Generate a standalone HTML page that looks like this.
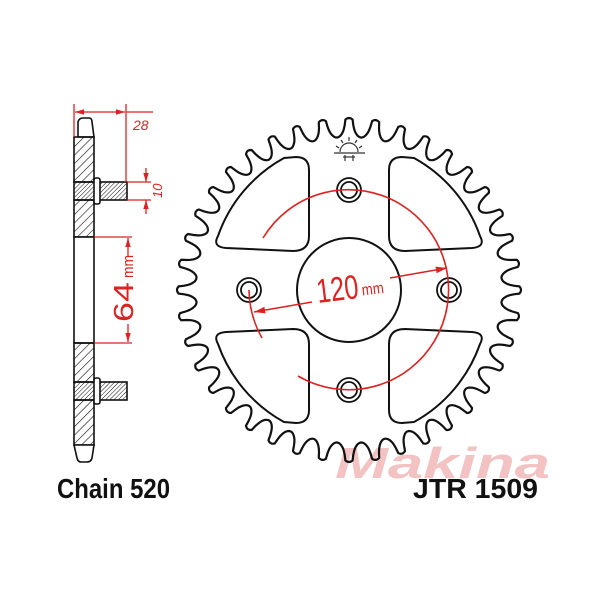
<!DOCTYPE html>
<html><head><meta charset="utf-8"><style>body{margin:0;background:#fff}svg{display:block}</style></head>
<body>
<svg id="s" width="600" height="600" viewBox="0 0 600 600" xmlns="http://www.w3.org/2000/svg" font-family="Liberation Sans, sans-serif">
<defs>
<pattern id="h1" width="6" height="6" patternUnits="userSpaceOnUse" patternTransform="rotate(45)"><line x1="0" y1="0" x2="0" y2="6" stroke="#111" stroke-width="1.2"/></pattern>
<pattern id="h2" width="3" height="3" patternUnits="userSpaceOnUse" patternTransform="rotate(45)"><line x1="0" y1="0" x2="0" y2="3" stroke="#111" stroke-width="1"/></pattern>
<marker id="ar" viewBox="0 0 10 10" refX="10" refY="5" markerWidth="7" markerHeight="7" orient="auto-start-reverse"><path d="M0,2 L10,5 L0,8 z" fill="#d22"/></marker>
</defs>
<text x="335" y="478" font-size="44" font-weight="bold" font-style="italic" fill="#f3c3c3" textLength="215" lengthAdjust="spacingAndGlyphs">Makina</text>
<path id="teeth" fill="none" stroke="#111" stroke-width="2.2"/>
<g fill="none" stroke="#111" stroke-width="2">
<circle cx="349" cy="290" r="52"/>
<g id="win"><path d="M296 157 Q309 157 309 170 L309 236 Q309 251 293 251 L226 248 Q212 247 218 236 A143 143 0 0 1 284 158 Z"/></g>
<use href="#win" transform="translate(698,0) scale(-1,1)"/>
<use href="#win" transform="translate(0,580) scale(1,-1)"/>
<use href="#win" transform="translate(698,580) scale(-1,-1)"/>
<g stroke-width="1.8">
<circle cx="349" cy="190" r="12"/><circle cx="349" cy="190" r="8"/>
<circle cx="349" cy="390" r="12"/><circle cx="349" cy="390" r="8"/>
<circle cx="249" cy="290" r="12"/><circle cx="249" cy="290" r="8"/>
<circle cx="449" cy="290" r="12"/><circle cx="449" cy="290" r="8"/>
</g>
</g>
<g stroke="#333" stroke-width="1.2" fill="none">
<path d="M340 152 A9 9 0 0 1 358 152"/><line x1="334" y1="153" x2="365" y2="153"/>
<line x1="349" y1="137" x2="349" y2="141"/><line x1="341" y1="140" x2="343" y2="143"/><line x1="357" y1="140" x2="355" y2="143"/>
<line x1="336" y1="146" x2="339" y2="148"/><line x1="362" y1="146" x2="359" y2="148"/>
<line x1="345" y1="155" x2="345" y2="161"/><line x1="353" y1="155" x2="353" y2="161"/><line x1="343" y1="157" x2="355" y2="157"/>
</g>
<g fill="none" stroke="#d22" stroke-width="1.6">
<path d="M263 238 A100 100 0 1 1 298 376"/>
<path d="M249 290 A100 100 0 0 0 262 338"/>
<line x1="254" y1="312" x2="312" y2="302" marker-start="url(#ar)"/>
<line x1="390" y1="278" x2="447" y2="268" marker-end="url(#ar)"/>
</g>
<g transform="translate(318,303) rotate(-7)" fill="#d22">
<text x="0" y="0" font-size="34" textLength="42" lengthAdjust="spacingAndGlyphs">120</text>
<text x="45" y="-2" font-size="16" textLength="22" lengthAdjust="spacingAndGlyphs">mm</text>
</g>
<g stroke="#111" stroke-width="1.6">
<path d="M78 137 L78 122 Q79 118 83 118 L89 118 Q92 118 92 122 L94 137 Z" fill="#fff"/>
<rect x="74" y="137" width="20" height="45" fill="url(#h1)"/>
<rect x="74" y="200" width="20" height="37" fill="url(#h1)"/>
<rect x="74" y="237" width="20" height="106" fill="#fff"/>
<rect x="74" y="343" width="20" height="39" fill="url(#h1)"/>
<rect x="74" y="400" width="20" height="45" fill="url(#h1)"/>
<path d="M74 445 L94 445 L92 458 Q91 462 87 462 L81 462 Q78 462 77 458 Z" fill="#fff"/>
<rect x="74" y="182" width="53" height="18" fill="url(#h2)"/>
<rect x="74" y="382" width="53" height="18" fill="url(#h2)"/>
<rect x="94" y="178" width="6" height="26" rx="2" fill="#fff"/>
<rect x="94" y="378" width="6" height="26" rx="2" fill="#fff"/>
</g>
<g stroke="#d22" stroke-width="1.3" fill="none">
<line x1="74" y1="104" x2="74" y2="137"/>
<line x1="126" y1="104" x2="126" y2="182"/>
<line x1="75" y1="112" x2="125" y2="112" marker-start="url(#ar)" marker-end="url(#ar)"/>
<line x1="126" y1="112" x2="153" y2="112"/>
<line x1="127" y1="182" x2="151" y2="182"/>
<line x1="127" y1="200" x2="151" y2="200"/>
<line x1="146" y1="168" x2="146" y2="182" marker-end="url(#ar)"/>
<line x1="146" y1="214" x2="146" y2="200" marker-end="url(#ar)"/>
<line x1="94" y1="237" x2="132" y2="237"/>
<line x1="94" y1="343" x2="132" y2="343"/>
<line x1="128" y1="256" x2="128" y2="238" marker-end="url(#ar)"/>
<line x1="128" y1="324" x2="128" y2="342" marker-end="url(#ar)"/>
</g>
<text x="133" y="130" font-size="14" font-style="italic" fill="#d22">28</text>
<text transform="translate(162,198) rotate(-90)" font-size="13" font-style="italic" fill="#d22">10</text>
<g transform="translate(133,322) rotate(-90)" fill="#d22">
<text x="0" y="0" font-size="28" textLength="40" lengthAdjust="spacingAndGlyphs">64</text>
<text x="44" y="0" font-size="15" textLength="23" lengthAdjust="spacingAndGlyphs">mm</text>
</g>
<text x="57" y="498" font-size="28" font-weight="bold" fill="#111" textLength="113" lengthAdjust="spacingAndGlyphs">Chain 520</text>
<text x="413" y="498" font-size="28" font-weight="bold" fill="#111" textLength="125" lengthAdjust="spacingAndGlyphs">JTR 1509</text>
</svg>
<script>
(function(){
var cx=349,cy=290,tip=172,root=153,n=40,h=tip-root,pts=[];
var N=n*30;
for(var i=0;i<=N;i++){
 var t=i/N, th=t*2*Math.PI-Math.PI/2;
 var p=(t*n+0.5)%1; var d=Math.abs(p-0.5)*2;
 var r, tw=0.3;
 if(d<tw){r=tip-2*(d/tw)*(d/tw);}
 else{var u=(1-d)/(1-tw); r=tip-2-(h-2)*Math.sqrt(Math.max(0,1-u*u));}
 pts.push((cx+r*Math.cos(th)).toFixed(1)+','+(cy+r*Math.sin(th)).toFixed(1));
}
document.getElementById('teeth').setAttribute('d','M'+pts.join(' L')+'Z');
})();
</script>
</body></html>
